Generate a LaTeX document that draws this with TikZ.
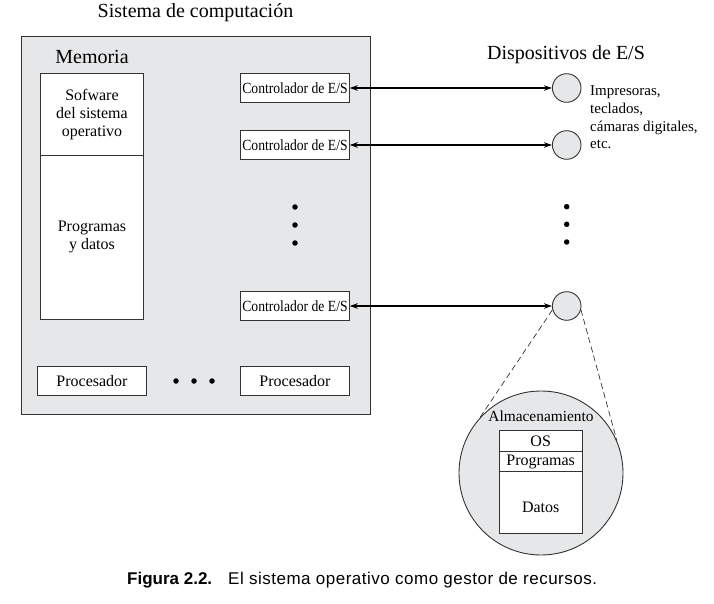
\documentclass[tikz,border=0pt]{standalone}
\usepackage{fontspec}
\setmainfont{Liberation Serif}
\newfontfamily\condfont{Liberation Serif}[FakeStretch=0.88]
\newfontfamily\capfont{Liberation Sans}[LetterSpace=3]
\newfontfamily\capboldfont{Liberation Sans Bold}
\usetikzlibrary{arrows.meta}
\definecolor{panelgray}{HTML}{E6E7E8}
\definecolor{linegray}{HTML}{333333}
\tikzset{
  box/.style={draw=linegray, fill=white, line width=0.9pt, inner sep=0pt},
  ctrl/.style={box, minimum width=108.6pt, minimum height=29pt, font=\condfont\fontsize{15.5}{17}\selectfont},
  proc/.style={box, minimum height=28.6pt, font=\fontsize{16}{18}\selectfont},
  dev/.style={circle, draw=linegray, fill=panelgray, line width=0.9pt, minimum size=28.6pt, inner sep=0pt},
  dotmark/.style={circle, fill=black, inner sep=0pt, minimum size=5.5pt},
  io/.style={{Stealth[length=8pt,width=5.5pt]}-{Stealth[length=8pt,width=5.5pt]}, line width=1.2pt, draw=black},
  lens/.style={dash pattern=on 6pt off 3.5pt, line width=0.7pt, draw=linegray},
  big/.style={font=\fontsize{20}{22}\selectfont},
  mid/.style={font=\fontsize{16}{18}\selectfont, align=center},
}
\begin{document}
\begin{tikzpicture}[x=1pt,y=-1pt]
\useasboundingbox (0,0) rectangle (714,604);

% computer system panel
\draw[fill=panelgray, draw=linegray, line width=1pt] (21,37) rectangle (370,414);
\node[big] (title) at (195.5,13) {Sistema de computación};
\node[big] (memlabel) at (92,57) {Memoria};

% memory
\node[box, mid, minimum width=103.4pt, minimum height=82pt] (memtop) at (92,114.3) {Sofware\\del sistema\\operativo};
\node[box, mid, minimum width=103.4pt, minimum height=164pt] (memlow) at (92,237.3) {Programas\\y datos};

% controllers
\node[ctrl] (c1) at (295,88) {Controlador de E/S};
\node[ctrl] (c2) at (295,145) {Controlador de E/S};
\node[ctrl] (c3) at (295,306) {Controlador de E/S};
\node[dotmark] (vd1) at (295,207) {};
\node[dotmark] (vd2) at (295,225) {};
\node[dotmark] (vd3) at (295,243) {};

% processors
\node[proc, minimum width=109.4pt] (p1) at (92,381) {Procesador};
\node[proc, minimum width=108.6pt] (p2) at (295,381) {Procesador};
\node[dotmark] (hd1) at (176,381) {};
\node[dotmark] (hd2) at (194,381) {};
\node[dotmark] (hd3) at (212,381) {};

% devices
\node[big] (devlabel) at (566,55) {Dispositivos de E/S};
\node[dev] (d1) at (566.7,88) {};
\node[dev] (d2) at (566.7,145) {};
\node[dev] (d3) at (566.7,306) {};
\node[dotmark] (rd1) at (566.7,206.7) {};
\node[dotmark] (rd2) at (566.7,224.3) {};
\node[dotmark] (rd3) at (566.7,242) {};
\node[anchor=west, align=left, inner sep=0pt, font=\fontsize{15}{17.7}\selectfont] (devtext) at (590,117.5) {Impresoras,\\teclados,\\cámaras digitales,\\etc.};

\draw[io] (c1.east) -- (d1.west);
\draw[io] (c2.east) -- (d2.west);
\draw[io] (c3.east) -- (d3.west);

% storage magnified
\node[circle, draw=linegray, fill=panelgray, line width=0.9pt, minimum size=164pt, inner sep=0pt] (store) at (541,473) {};
\draw[lens] (d3.195) -- (store.138.4);
\draw[lens] (d3.345) -- (store.23.8);
\node[font=\fontsize{15.4}{17}\selectfont] (storelabel) at (541,416.7) {Almacenamiento};
\node[box, mid, minimum width=82.7pt, minimum height=21pt] (os) at (540.7,441.2) {OS};
\node[box, mid, minimum width=82.7pt, minimum height=20pt] (progs) at (540.7,461.7) {Programas};
\node[box, minimum width=82.7pt, minimum height=61.6pt] (datos) at (540.7,502.5) {};
\node[mid] (datostext) at (540.7,507) {Datos};

% caption
\node[anchor=west, inner sep=0pt, font=\capboldfont\fontsize{17}{19}\selectfont] (capnum) at (127,580) {Figura 2.2.};
\node[anchor=west, inner sep=0pt, font=\capfont\fontsize{17}{19}\selectfont] (captext) at (228,580) {El sistema operativo como gestor de recursos.};
\end{tikzpicture}
\end{document}
